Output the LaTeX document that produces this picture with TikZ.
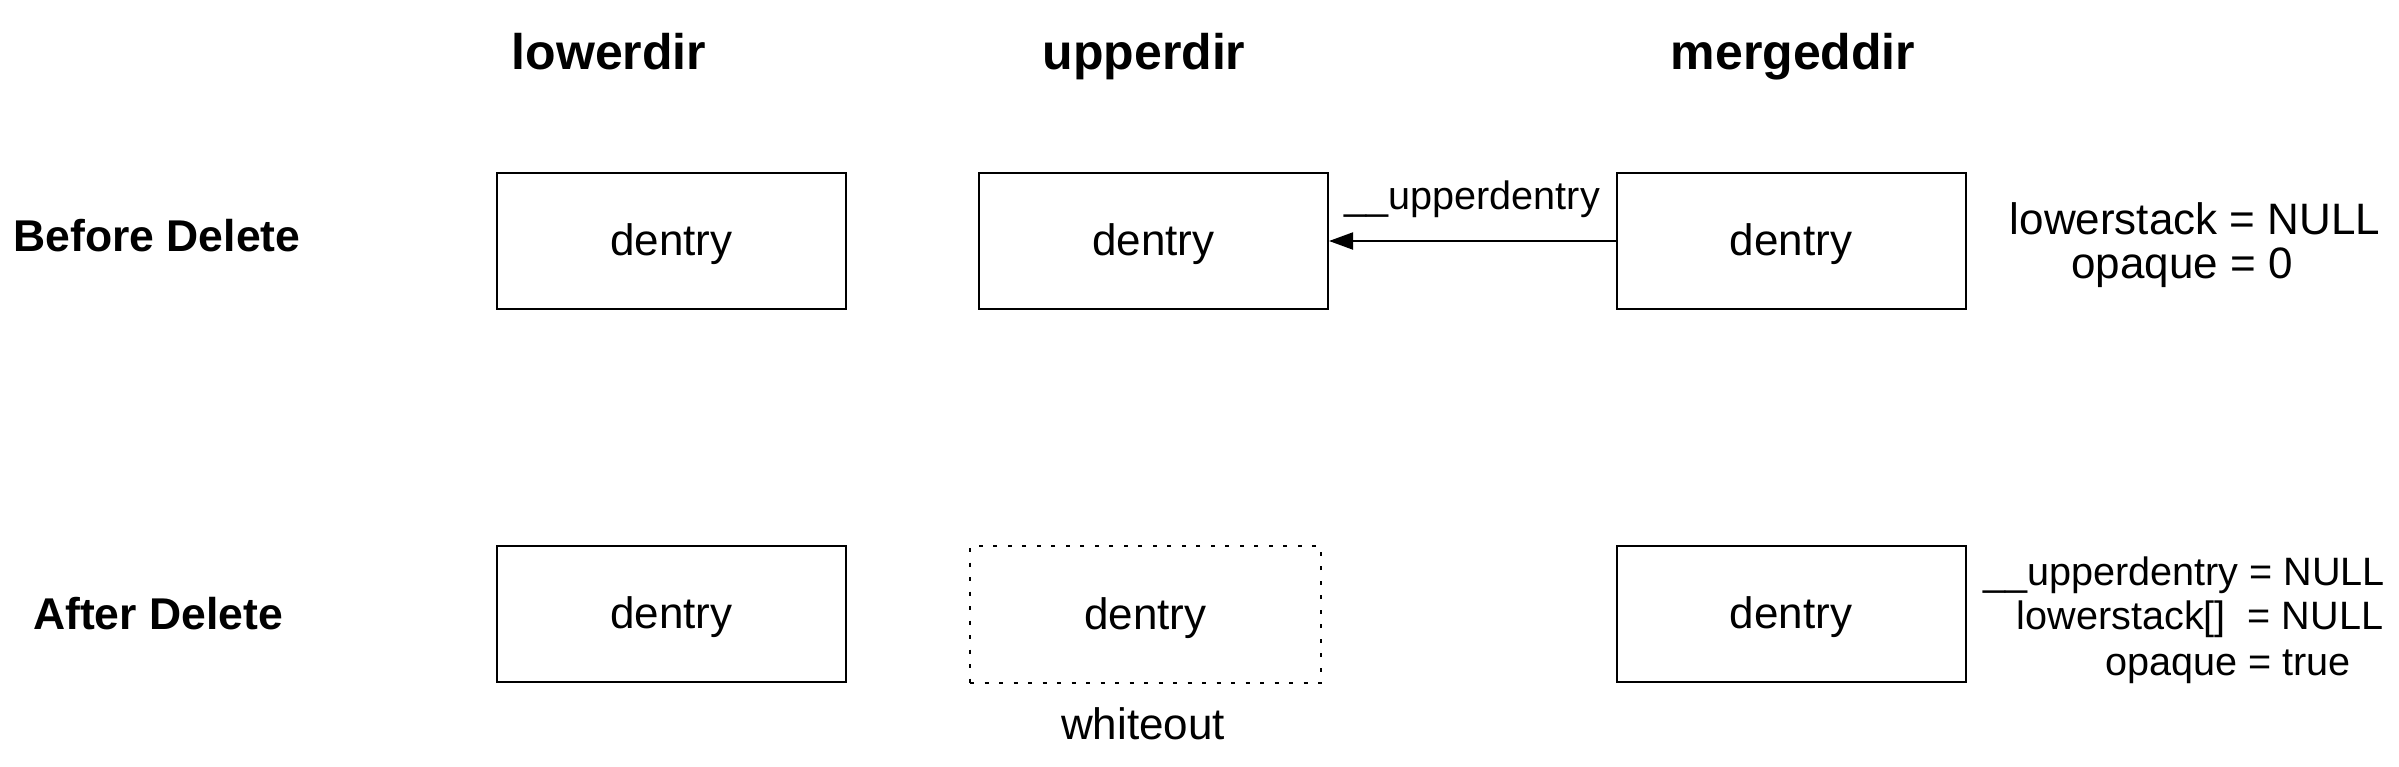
\documentclass[tikz,border=0pt]{standalone}
\usepackage{fontspec}
\setmainfont{Liberation Sans}
\usetikzlibrary{arrows.meta}
\begin{document}
\begin{tikzpicture}[x=1pt,y=-1pt,
  dbox/.style={draw=black, line width=2pt, minimum width=349pt, minimum height=136pt, inner sep=0pt, text height=32pt, text depth=3pt, font=\fontsize{44}{46}\selectfont},
  wbox/.style={dbox, line width=2.5pt, dash pattern=on 4pt off 10.5pt, minimum width=351pt, minimum height=137pt},
  coltitle/.style={anchor=base, inner sep=0pt, font=\fontsize{50}{52}\selectfont\bfseries},
  rowtitle/.style={anchor=base, inner sep=0pt, font=\fontsize{44.5}{46}\selectfont\bfseries},
  note/.style={anchor=base, inner sep=0pt, font=\fontsize{44}{46}\selectfont},
  smallnote/.style={anchor=base, inner sep=0pt, font=\fontsize{39.6}{42}\selectfont},
  ptr/.style={line width=2pt, -{Triangle[length=24pt,width=17pt]}}]
\useasboundingbox (0,0) rectangle (2399,766);
% column titles
\node[coltitle] (tlow) at (609,69) {lowerdir};
\node[coltitle] (tup) at (1144,69) {upperdir};
\node[coltitle] (tmrg) at (1793,69) {mergeddir};
% row titles
\node[rowtitle] (rbefore) at (157,251) {Before Delete};
\node[rowtitle] (rafter) at (158,629) {After Delete};
% before row
\node[dbox] (l1) at (671.5,241) {dentry};
\node[dbox] (u1) at (1153.5,241) {dentry};
\node[dbox] (m1) at (1791,241) {dentry};
\draw[ptr] (m1.west) -- node[smallnote, anchor=base, yshift=32pt] (lblup) {\_\_upperdentry} (u1.east);
\node[note] (nb1) at (2195,234) {lowerstack = NULL};
\node[note] (nb2) at (2182,278) {opaque = 0};
% after row
\node[dbox] (l2) at (671.5,614) {dentry};
\node[wbox] (u2) at (1145.5,614.5) {dentry};
\node[dbox] (m2) at (1791,614) {dentry};
\node[note] (wo) at (1143,739) {whiteout};
\node[smallnote] (na1) at (2184,585) {\_\_upperdentry = NULL};
\node[smallnote] (na2) at (2200,629) {lowerstack[]\ \ = NULL};
\node[smallnote] (na3) at (2228,675) {opaque = true};
\end{tikzpicture}
\end{document}
